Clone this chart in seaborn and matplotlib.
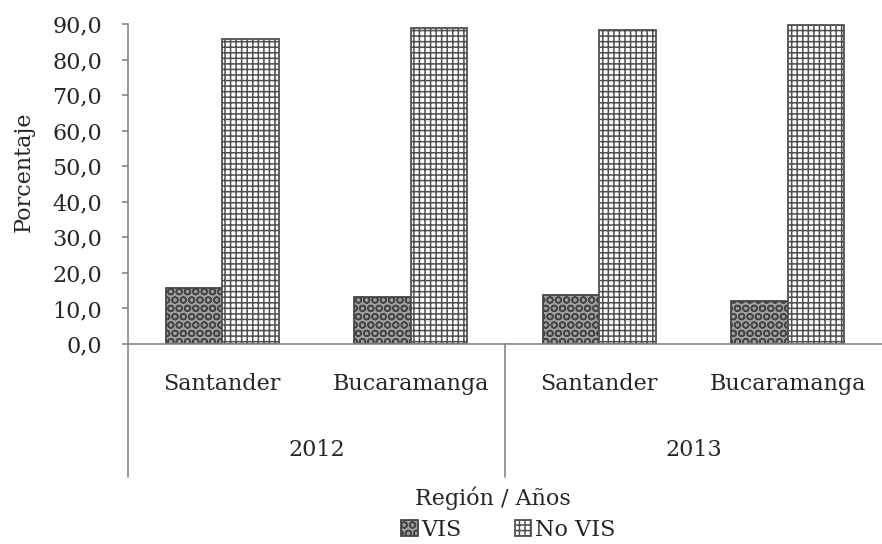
#!/usr/bin/env python3

import matplotlib
matplotlib.use("Agg")
import matplotlib.pyplot as plt
import matplotlib.transforms as mtransforms
import pandas as pd
import seaborn as sns

# data
years = ["2012", "2012", "2013", "2013"]
regions = ["Santander", "Bucaramanga", "Santander", "Bucaramanga"]
vis = [15.8, 13.2, 13.8, 12.0]
no_vis = [85.9, 88.8, 88.3, 89.8]
series = ["VIS", "No VIS"]
y_ticks = [0, 10, 20, 30, 40, 50, 60, 70, 80, 90]

groups = [f"{y} {r}" for y, r in zip(years, regions)]
df = pd.DataFrame({
    "grupo": groups * 2,
    "serie": [series[0]] * 4 + [series[1]] * 4,
    "valor": vis + no_vis,
})

sns.set_style("white")
plt.rcParams["font.family"] = ["DejaVu Serif"]
plt.rcParams["hatch.linewidth"] = 1.1
font_size = 16
gray = "#868686"

fig = plt.figure(figsize=(8.82, 5.44), dpi=100)
ax_h = 320
ax = fig.add_axes([128 / 882, 1 - 344 / 544, 754 / 882, ax_h / 544])

sns.barplot(data=df, x="grupo", y="valor", hue="serie", order=groups,
            hue_order=series, width=0.6, ax=ax, legend=False)

# patterns for the two series
styles = [
    dict(facecolor="#a0a0a0", edgecolor="#454545", hatch="OO"),
    dict(facecolor="white", edgecolor="#505050", hatch="+++"),
]
for cont, st in zip(ax.containers, styles):
    for bar in cont:
        bar.set_facecolor(st["facecolor"])
        bar.set_edgecolor(st["edgecolor"])
        bar.set_hatch(st["hatch"])
        bar.set_linewidth(1.3)

ax.set_xlim(-0.5, len(groups) - 0.5)
ax.set_ylim(0, 90)
ax.set_yticks(y_ticks)
ax.set_yticklabels([f"{v:.1f}".replace(".", ",") for v in y_ticks], fontsize=font_size)
ax.set_xticks([])
ax.tick_params(axis="y", length=4.5, color=gray, width=1.2, pad=14, direction="out", left=True)
ax.set_xlabel("")
ax.set_ylabel("")

for side in ["top", "right"]:
    ax.spines[side].set_visible(False)
for side in ["left", "bottom"]:
    ax.spines[side].set_color(gray)
    ax.spines[side].set_linewidth(1.2)

# region and year labels below the axis, with group separators
trans = mtransforms.blended_transform_factory(ax.transData, ax.transAxes)
for i, reg in enumerate(regions):
    ax.text(i, -40 / ax_h, reg, transform=trans, ha="center", va="center", fontsize=font_size)
for xv in [-0.5, 1.5]:
    ax.plot([xv, xv], [0, -133 / ax_h], color=gray, lw=1.2, transform=trans, clip_on=False)
for i, yr in enumerate(["2012", "2013"]):
    ax.text(2 * i + 0.5, -106 / ax_h, yr, transform=trans, ha="center", va="center",
            fontsize=font_size)

fig.text(24 / 882, 1 - 172 / 544, "Porcentaje", rotation=90, ha="center", va="center",
         fontsize=font_size)
fig.text(493 / 882, 1 - 498 / 544, "Región / Años", ha="center", va="center", fontsize=font_size)
fig.legend(handles=list(ax.containers), labels=series, loc="center", ncol=2,
           bbox_to_anchor=(508 / 882, 1 - 530 / 544), frameon=False, fontsize=font_size,
           handlelength=0.75, handleheight=0.7, handletextpad=0.15, columnspacing=2.4,
           borderpad=0)

fig.savefig("out.png", dpi=100)
plt.close(fig)
